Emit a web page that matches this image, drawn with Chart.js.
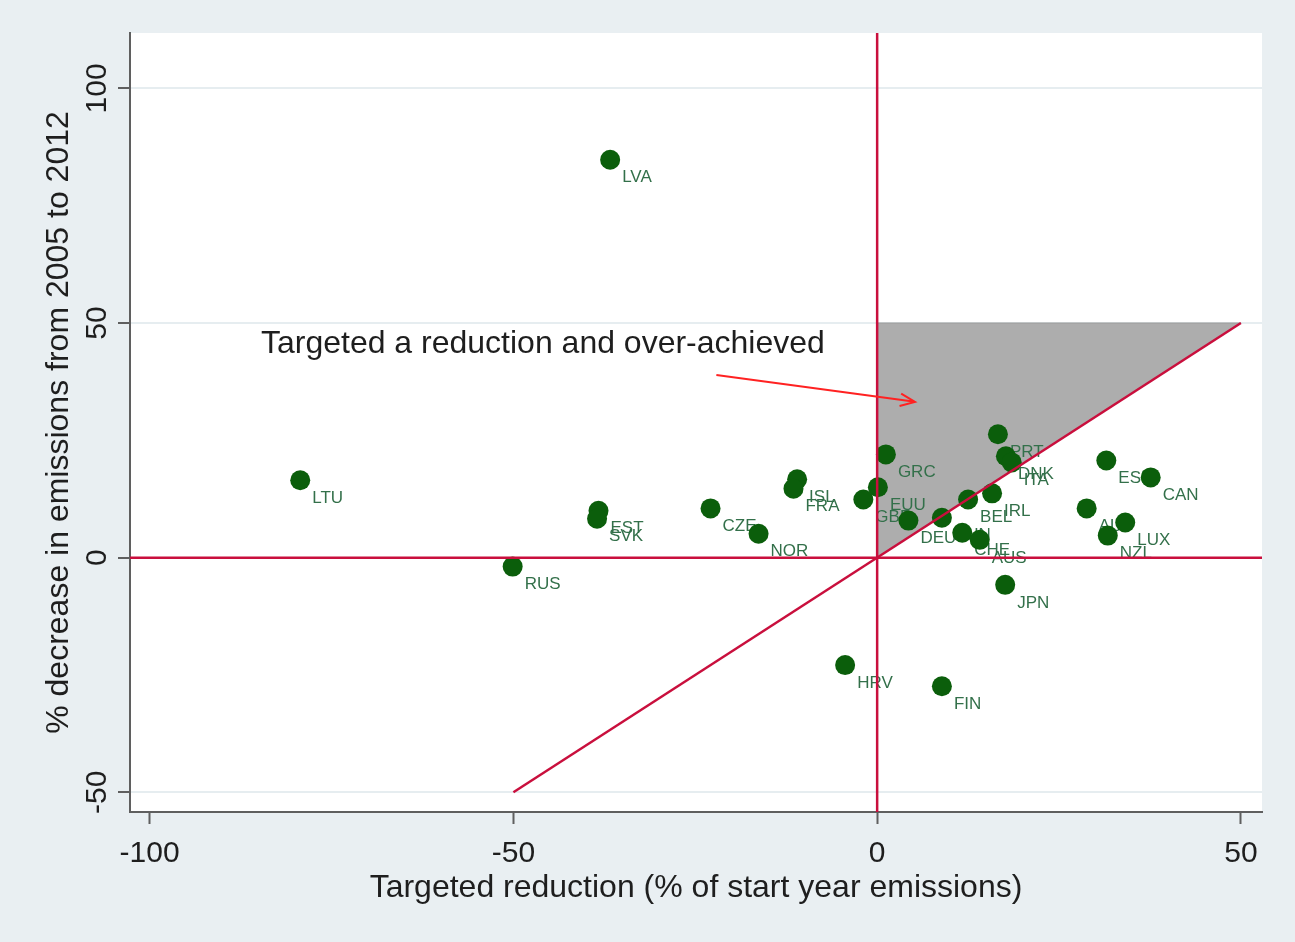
<!DOCTYPE html>
<html>
<head>
<meta charset="utf-8">
<script src="https://cdn.jsdelivr.net/npm/chart.js@4.4.0/dist/chart.umd.min.js"></script>
<style>
  html, body { margin: 0; padding: 0; background: #e9eff2; }
  canvas { display: block; }
</style>
</head>
<body>
<canvas id="chart" width="1295" height="942"></canvas>
<script>
// data
const countries = ["LVA", "LTU", "RUS", "EST", "SVK", "CZE", "NOR", "ISL", "FRA", "GBR",
  "EUU", "GRC", "DEU", "HUN", "CHE", "AUS", "BEL", "IRL", "PRT", "DNK",
  "ITA", "JPN", "HRV", "FIN", "ESP", "CAN", "AUT", "LUX", "NZL"];
const targetedReduction = [-36.7, -79.3, -50.1, -38.3, -38.5, -22.9, -16.3, -11.0, -11.5, -1.9,
  0.1, 1.2, 4.3, 8.9, 11.7, 14.1, 12.5, 15.8, 16.6, 17.7,
  18.5, 17.6, -4.4, 8.9, 31.5, 37.6, 28.8, 34.1, 31.7];
const emissionsDecrease = [84.8, 16.5, -1.9, 10.0, 8.3, 10.5, 5.1, 16.7, 14.7, 12.4,
  15.0, 22.0, 7.9, 8.5, 5.3, 3.8, 12.4, 13.7, 26.3, 21.6,
  20.3, -5.8, -22.9, -27.4, 20.7, 17.1, 10.5, 7.5, 4.7];

const xTicks = [-100, -50, 0, 50];
const yTicks = [-50, 0, 50, 100];
const xRange = [-102.7, 52.9];
const yRange = [-54.2, 111.8];

// reference lines and the shaded "over-achieved" region
const diagonalEnds = [-50, 50];
const regionX = [0, 0, 50, 0];
const regionY = [0, 50, 50, 0];

// annotation (data coordinates)
const noteText = "Targeted a reduction and over-achieved";
const notePos = [-84.7, 45.5];
const arrowFrom = [-22.1, 38.9];
const arrowTo = [5.2, 33.2];

const RED = "#c90f3d";
const GREEN = "#0b5e0b";
const FONT = "'Liberation Sans', Arial, sans-serif";

const bgPlugin = {
  id: "bg",
  beforeDraw(chart) {
    const {ctx, chartArea: a} = chart;
    ctx.save();
    ctx.fillStyle = "#e9eff2";
    ctx.fillRect(0, 0, chart.width, chart.height);
    ctx.fillStyle = "#ffffff";
    ctx.fillRect(a.left, a.top, a.right - a.left, a.bottom - a.top);
    ctx.restore();
  }
};

// country labels go under the markers
const labelPlugin = {
  id: "labels",
  beforeDatasetDraw(chart, args) {
    if (args.index !== 0) return;
    const ctx = chart.ctx;
    const pts = chart.getDatasetMeta(0).data;
    ctx.save();
    ctx.font = "17px " + FONT;
    ctx.fillStyle = "#33704a";
    ctx.textAlign = "left";
    ctx.textBaseline = "middle";
    pts.forEach((p, i) => ctx.fillText(countries[i], p.x + 12, p.y + 18));
    ctx.restore();
  }
};

const notePlugin = {
  id: "note",
  afterDatasetsDraw(chart) {
    const {ctx, scales: {x, y}} = chart;
    ctx.save();
    ctx.font = "32px " + FONT;
    ctx.fillStyle = "#1e1e1e";
    ctx.textBaseline = "middle";
    ctx.fillText(noteText, x.getPixelForValue(notePos[0]), y.getPixelForValue(notePos[1]));
    const x0 = x.getPixelForValue(arrowFrom[0]), y0 = y.getPixelForValue(arrowFrom[1]);
    const x1 = x.getPixelForValue(arrowTo[0]), y1 = y.getPixelForValue(arrowTo[1]);
    const ang = Math.atan2(y1 - y0, x1 - x0);
    ctx.strokeStyle = "#ff2222";
    ctx.lineWidth = 2;
    ctx.beginPath();
    ctx.moveTo(x0, y0);
    ctx.lineTo(x1, y1);
    ctx.moveTo(x1 - 16 * Math.cos(ang - 0.4), y1 - 16 * Math.sin(ang - 0.4));
    ctx.lineTo(x1, y1);
    ctx.lineTo(x1 - 16 * Math.cos(ang + 0.4), y1 - 16 * Math.sin(ang + 0.4));
    ctx.stroke();
    ctx.restore();
  }
};

// y tick labels rotated to read upwards
const yTickPlugin = {
  id: "yticks",
  afterDraw(chart) {
    const {ctx, scales: {y}} = chart;
    ctx.save();
    ctx.font = "30px " + FONT;
    ctx.fillStyle = "#1e1e1e";
    ctx.textAlign = "center";
    ctx.textBaseline = "alphabetic";
    y.ticks.forEach(t => {
      ctx.save();
      ctx.translate(y.right - 24, y.getPixelForValue(t.value));
      ctx.rotate(-Math.PI / 2);
      ctx.fillText(String(t.value), 0, 0);
      ctx.restore();
    });
    ctx.restore();
  }
};

const redLine = (pts) => ({
  data: pts,
  showLine: true,
  borderColor: RED,
  borderWidth: 2.5,
  pointRadius: 0,
  fill: false,
  order: 1
});

new Chart(document.getElementById("chart"), {
  type: "scatter",
  data: {
    datasets: [
      {
        data: targetedReduction.map((v, i) => ({x: v, y: emissionsDecrease[i]})),
        pointRadius: 10,
        pointBackgroundColor: GREEN,
        pointBorderWidth: 0,
        order: 2
      },
      redLine([{x: xRange[0], y: 0}, {x: xRange[1], y: 0}]),
      redLine([{x: 0, y: yRange[0]}, {x: 0, y: yRange[1]}]),
      redLine(diagonalEnds.map(v => ({x: v, y: v}))),
      {
        data: regionX.map((v, i) => ({x: v, y: regionY[i]})),
        showLine: true,
        fill: "shape",
        backgroundColor: "#adadad",
        borderColor: "#9c9c9c",
        borderWidth: 1,
        pointRadius: 0,
        order: 5
      }
    ]
  },
  options: {
    responsive: false,
    devicePixelRatio: 1,
    animation: false,
    layout: {padding: {left: 0, top: 33, right: 33, bottom: 0}},
    plugins: {legend: {display: false}, tooltip: {enabled: false}},
    scales: {
      x: {
        type: "linear",
        min: xRange[0],
        max: xRange[1],
        afterBuildTicks: s => { s.ticks = xTicks.map(v => ({value: v})); },
        afterFit: s => { s.height = 130; },
        grid: {color: "rgba(0,0,0,0)", tickColor: "#5f5f5f", tickLength: 12, tickWidth: 2},
        border: {color: "#5f5f5f", width: 2},
        ticks: {font: {family: FONT, size: 30}, color: "#1e1e1e", padding: 12,
                maxRotation: 0, autoSkip: false},
        title: {display: true, text: "Targeted reduction (% of start year emissions)",
                font: {family: FONT, size: 32}, color: "#1e1e1e",
                padding: {top: 0, bottom: 35}}
      },
      y: {
        type: "linear",
        min: yRange[0],
        max: yRange[1],
        afterBuildTicks: s => { s.ticks = yTicks.map(v => ({value: v})); },
        afterFit: s => { s.width = 130; },
        grid: {color: "#e6edf0", lineWidth: 2, tickColor: "#5f5f5f", tickLength: 12, tickWidth: 2},
        border: {color: "#5f5f5f", width: 2},
        ticks: {display: false},
        title: {display: true, text: "% decrease in emissions from 2005 to 2012",
                font: {family: FONT, size: 32}, color: "#1e1e1e",
                padding: {top: 40, bottom: 0}}
      }
    }
  },
  plugins: [bgPlugin, labelPlugin, notePlugin, yTickPlugin]
});
</script>
</body>
</html>
